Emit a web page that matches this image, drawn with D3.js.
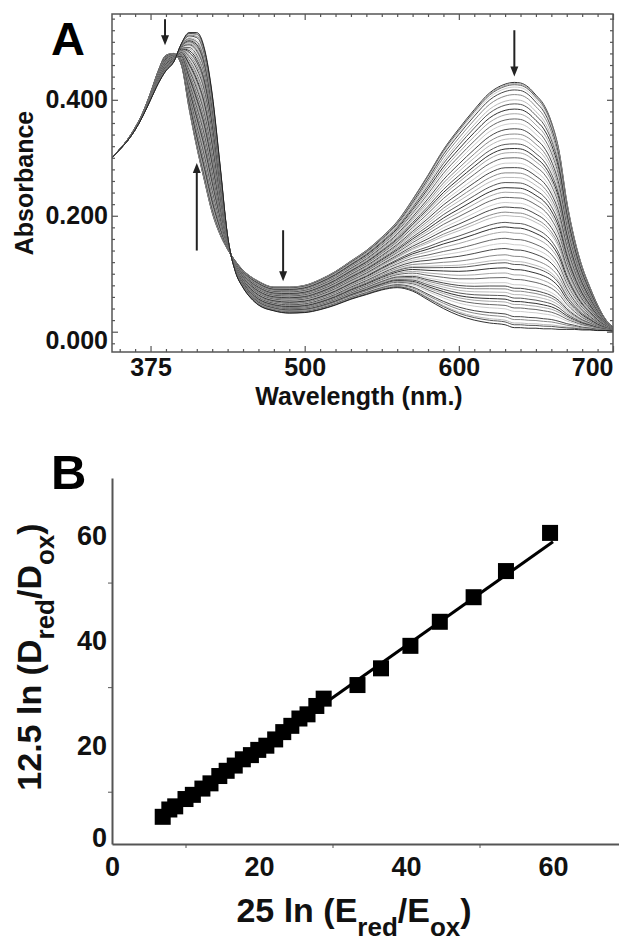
<!DOCTYPE html>
<html>
<head>
<meta charset="utf-8">
<script src="https://cdn.jsdelivr.net/npm/d3@7"></script>
<style>
  body { margin: 0; background: #fff; }
  svg { display: block; font-family: "Liberation Sans", Arial, sans-serif; font-weight: bold; }
</style>
</head>
<body>
<svg id="chart" width="619" height="941"></svg>
<script>
// ---- panel A data ----
// wavelength grid (axis position units) and the two end spectra
const wl = [375, 380, 385, 390, 395, 400, 405, 410, 415, 420, 425, 430, 435, 440, 445, 450, 455, 460, 465, 470,
  480, 490, 500, 510, 520, 530, 540, 550, 560, 570, 580, 590, 600, 610, 620, 630, 636, 640, 645, 650,
  655, 660, 665, 670, 675, 680, 685, 690, 695, 700];
const absStart = [0.300, 0.315, 0.331, 0.352, 0.378, 0.412, 0.450, 0.477, 0.480, 0.460, 0.385, 0.318, 0.260, 0.205, 0.168, 0.142, 0.122, 0.106, 0.095, 0.087,
  0.077, 0.077, 0.080, 0.090, 0.104, 0.122, 0.140, 0.163, 0.190, 0.228, 0.270, 0.314, 0.350, 0.383, 0.412, 0.427, 0.430, 0.429, 0.422, 0.408,
  0.392, 0.362, 0.312, 0.225, 0.160, 0.112, 0.077, 0.046, 0.022, 0.008];
const absEnd = [0.300, 0.314, 0.329, 0.348, 0.372, 0.400, 0.428, 0.450, 0.465, 0.497, 0.516, 0.516, 0.488, 0.410, 0.290, 0.165, 0.104, 0.076, 0.058, 0.046,
  0.036, 0.032, 0.033, 0.038, 0.046, 0.056, 0.064, 0.072, 0.076, 0.070, 0.055, 0.040, 0.028, 0.020, 0.015, 0.012, 0.007, 0.007, 0.006, 0.006,
  0.005, 0.005, 0.004, 0.004, 0.004, 0.003, 0.003, 0.002, 0.002, 0.001];
// absorbance of every recorded trace at the 636 nm band maximum
const peak636 = [0.430, 0.428, 0.426, 0.422, 0.417, 0.409, 0.400, 0.393, 0.384, 0.376, 0.367, 0.359, 0.350, 0.341, 0.333,
  0.324, 0.316, 0.309, 0.300, 0.291, 0.283, 0.274, 0.266, 0.257, 0.248, 0.240, 0.231, 0.222, 0.214, 0.205,
  0.199, 0.187, 0.179, 0.170, 0.159, 0.150, 0.141, 0.130, 0.121, 0.116, 0.107, 0.098, 0.090, 0.081, 0.075,
  0.070, 0.064, 0.058, 0.052, 0.047, 0.041, 0.035, 0.026, 0.021, 0.015, 0.012, 0.007];

const xTickVals = [400, 500, 600, 700];
const xTickLabels = ['375', '500', '600', '700'];
const yTickVals = [0, 0.2, 0.4];

// annotation arrows: wavelength, tail absorbance, head absorbance
const arrowWl = [409.4, 430, 486, 636];
const arrowFrom = [0.539, 0.140, 0.175, 0.520];
const arrowTo = [0.494, 0.291, 0.087, 0.440];

// ---- panel B data ----
const ratioX = [6.9, 7.8, 8.6, 10.0, 11.0, 12.3, 13.4, 14.6, 15.6, 16.7, 17.8, 18.9, 19.9, 21.0, 22.2, 23.3, 24.4, 25.5, 26.6, 27.8, 28.8,
  33.4, 36.6, 40.6, 44.6, 49.2, 53.6, 59.6];
const ratioY = [5.2, 6.6, 7.2, 8.6, 9.4, 10.6, 11.6, 13.0, 14.0, 15.0, 16.2, 17.0, 18.0, 18.8, 20.0, 21.4, 22.6, 24.0, 24.8, 26.4, 27.8,
  30.4, 33.6, 37.9, 42.5, 47.2, 52.2, 59.5];
const fitX = [6.5, 60];
const fitY = [4.6, 57.8];
const bTicks = [0, 20, 40, 60];
const bMinor = [10, 30, 50];

const svg = d3.select('#chart');
const axisColor = '#555';
const grays = ['#1a1a1a', '#9c9c9c', '#555', '#c6c6c6', '#333', '#7c7c7c', '#b2b2b2', '#464646'];

// ================= panel A =================
const xA = d3.scaleLinear().domain([375, 700]).range([112, 613]);
const yA = d3.scaleLinear().domain([-0.035, 0.548]).range([352, 14]);

svg.append('clipPath').attr('id', 'clipA')
  .append('rect')
  .attr('x', xA.range()[0]).attr('y', yA.range()[1])
  .attr('width', xA.range()[1] - xA.range()[0])
  .attr('height', yA.range()[0] - yA.range()[1]);

const i636 = wl.indexOf(636);
const lineA = d3.line().x(d => xA(d[0])).y(d => yA(d[1])).curve(d3.curveMonotoneX);
const spectra = svg.append('g').attr('clip-path', 'url(#clipA)');
peak636.forEach((p, i) => {
  // each trace sits between the two end spectra, placed by its 636 nm reading
  let f = (p - absEnd[i636]) / (absStart[i636] - absEnd[i636]);
  let pts = wl.map((w, j) => [w, absEnd[j] + f * (absStart[j] - absEnd[j])]);
  spectra.append('path')
    .attr('d', lineA(pts))
    .attr('fill', 'none')
    .attr('stroke', grays[i % grays.length])
    .attr('stroke-width', 0.9);
});

// frame
svg.append('rect')
  .attr('x', xA.range()[0]).attr('y', yA.range()[1])
  .attr('width', xA.range()[1] - xA.range()[0])
  .attr('height', yA.range()[0] - yA.range()[1])
  .attr('fill', 'none').attr('stroke', axisColor).attr('stroke-width', 1.5);

const minorXA = d3.range(380, 700, 10).filter(d => d % 100 !== 0);
const minorYA = d3.range(-1, 28).map(i => +(i * 0.02).toFixed(2)).filter(d => Math.round(d * 100) % 20 !== 0);

function styleAxis(g, size) {
  g.select('.domain').remove();
  g.attr('font-family', null).attr('font-size', size).attr('color', axisColor);
  g.selectAll('line').attr('stroke-width', 1.2);
  g.selectAll('text').attr('fill', '#111');
}

// bottom
svg.append('g').attr('transform', `translate(0,${yA.range()[0]})`)
  .call(d3.axisBottom(xA).tickValues(xTickVals).tickFormat((d, i) => xTickLabels[i]).tickSizeInner(-6).tickSizeOuter(0).tickPadding(6))
  .call(g => styleAxis(g, 25))
  .call(g => g.selectAll('text').filter(d => d === 700).attr('text-anchor', 'end'));
svg.append('g').attr('transform', `translate(0,${yA.range()[0]})`)
  .call(d3.axisBottom(xA).tickValues(minorXA).tickFormat('').tickSizeInner(-3).tickSizeOuter(0))
  .call(g => styleAxis(g, 10));
// top
svg.append('g').attr('transform', `translate(0,${yA.range()[1]})`)
  .call(d3.axisTop(xA).tickValues(xTickVals).tickFormat('').tickSizeInner(-6).tickSizeOuter(0))
  .call(g => styleAxis(g, 10));
svg.append('g').attr('transform', `translate(0,${yA.range()[1]})`)
  .call(d3.axisTop(xA).tickValues(minorXA).tickFormat('').tickSizeInner(-3).tickSizeOuter(0))
  .call(g => styleAxis(g, 10));
// left
svg.append('g').attr('transform', `translate(${xA.range()[0]},0)`)
  .call(d3.axisLeft(yA).tickValues(yTickVals).tickFormat(d3.format('.3f')).tickSizeInner(-6).tickSizeOuter(0).tickPadding(4))
  .call(g => styleAxis(g, 25))
  .call(g => g.selectAll('text').filter(d => d === 0).attr('dy', '0.68em'));
svg.append('g').attr('transform', `translate(${xA.range()[0]},0)`)
  .call(d3.axisLeft(yA).tickValues(minorYA).tickFormat('').tickSizeInner(-3).tickSizeOuter(0))
  .call(g => styleAxis(g, 10));
// right
svg.append('g').attr('transform', `translate(${xA.range()[1]},0)`)
  .call(d3.axisRight(yA).tickValues(yTickVals).tickFormat('').tickSizeInner(-6).tickSizeOuter(0))
  .call(g => styleAxis(g, 10));
svg.append('g').attr('transform', `translate(${xA.range()[1]},0)`)
  .call(d3.axisRight(yA).tickValues(minorYA).tickFormat('').tickSizeInner(-3).tickSizeOuter(0))
  .call(g => styleAxis(g, 10));

// arrows
const arrows = svg.append('g').attr('fill', '#222').attr('stroke', '#222');
arrowWl.forEach((w, i) => {
  let x = xA(w), y1 = yA(arrowFrom[i]), y2 = yA(arrowTo[i]);
  let dir = y2 > y1 ? 1 : -1;
  arrows.append('line')
    .attr('x1', x).attr('x2', x)
    .attr('y1', y1).attr('y2', y2 - dir * 8)
    .attr('stroke-width', 2);
  arrows.append('path')
    .attr('stroke', 'none')
    .attr('d', `M${x - 4},${y2 - dir * 10}L${x + 4},${y2 - dir * 10}L${x},${y2}Z`);
});

svg.append('text').attr('x', 51).attr('y', 55).attr('font-size', 47).text('A');
svg.append('text')
  .attr('transform', `translate(33,${(yA.range()[0] + yA.range()[1]) / 2}) rotate(-90)`)
  .attr('text-anchor', 'middle').attr('font-size', 25).attr('fill', '#111')
  .text('Absorbance');
svg.append('text')
  .attr('x', 359).attr('y', 405)
  .attr('text-anchor', 'middle').attr('font-size', 25).attr('fill', '#111')
  .text('Wavelength (nm.)');

// ================= panel B =================
const xB = d3.scaleLinear().domain([0, 70]).range([112, 626.5]);
const yB = d3.scaleLinear().domain([0, 70]).range([844, 478]);

svg.append('g').attr('transform', `translate(0,${yB(0)})`)
  .call(d3.axisBottom(xB).tickValues(bMinor).tickFormat('').tickSizeInner(4).tickSizeOuter(0))
  .call(g => g.attr('color', axisColor))
  .call(g => g.select('.domain').attr('stroke-width', 2));
svg.append('g').attr('transform', `translate(0,${yB(0)})`)
  .call(d3.axisBottom(xB).tickValues(bTicks).tickSize(0).tickPadding(13))
  .call(g => styleAxis(g, 27));

svg.append('g').attr('transform', `translate(${xB(0)},0)`)
  .call(d3.axisLeft(yB).tickValues(bMinor).tickFormat('').tickSizeInner(4).tickSizeOuter(0))
  .call(g => g.attr('color', axisColor))
  .call(g => g.select('.domain').attr('stroke-width', 2));
svg.append('g').attr('transform', `translate(${xB(0)},0)`)
  .call(d3.axisLeft(yB).tickValues(bTicks).tickSize(0).tickPadding(5))
  .call(g => styleAxis(g, 27))
  .call(g => g.selectAll('text').attr('dy', d => d === 0 ? '0.1em' : '0.54em'));

const fitLine = d3.line().x(d => xB(d[0])).y(d => yB(d[1]));
svg.append('path')
  .attr('d', fitLine(fitX.map((x, i) => [x, fitY[i]])))
  .attr('fill', 'none').attr('stroke', '#000').attr('stroke-width', 3);

const sq = 16;
svg.append('g').selectAll('rect')
  .data(ratioX.map((x, i) => [x, ratioY[i]]))
  .join('rect')
  .attr('x', d => xB(d[0]) - sq / 2)
  .attr('y', d => yB(d[1]) - sq / 2)
  .attr('width', sq).attr('height', sq)
  .attr('fill', '#000');

svg.append('text').attr('x', 51).attr('y', 489).attr('font-size', 49).text('B');

const yTitle = svg.append('text')
  .attr('transform', `translate(41,${(yB(0) + yB(70)) / 2 - 4}) rotate(-90)`)
  .attr('text-anchor', 'middle').attr('font-size', 34).attr('fill', '#111');
yTitle.append('tspan').text('12.5 ln (D');
yTitle.append('tspan').attr('font-size', 26).attr('dy', 13).text('red');
yTitle.append('tspan').attr('dy', -13).text('/D');
yTitle.append('tspan').attr('font-size', 26).attr('dy', 13).text('ox');
yTitle.append('tspan').attr('dy', -13).text(')');

const xTitle = svg.append('text')
  .attr('x', 354).attr('y', 922)
  .attr('text-anchor', 'middle').attr('font-size', 34).attr('fill', '#111');
xTitle.append('tspan').text('25 ln (E');
xTitle.append('tspan').attr('font-size', 26).attr('dy', 14).text('red');
xTitle.append('tspan').attr('dy', -14).text('/E');
xTitle.append('tspan').attr('font-size', 26).attr('dy', 14).text('ox');
xTitle.append('tspan').attr('dy', -14).text(')');
</script>
</body>
</html>
